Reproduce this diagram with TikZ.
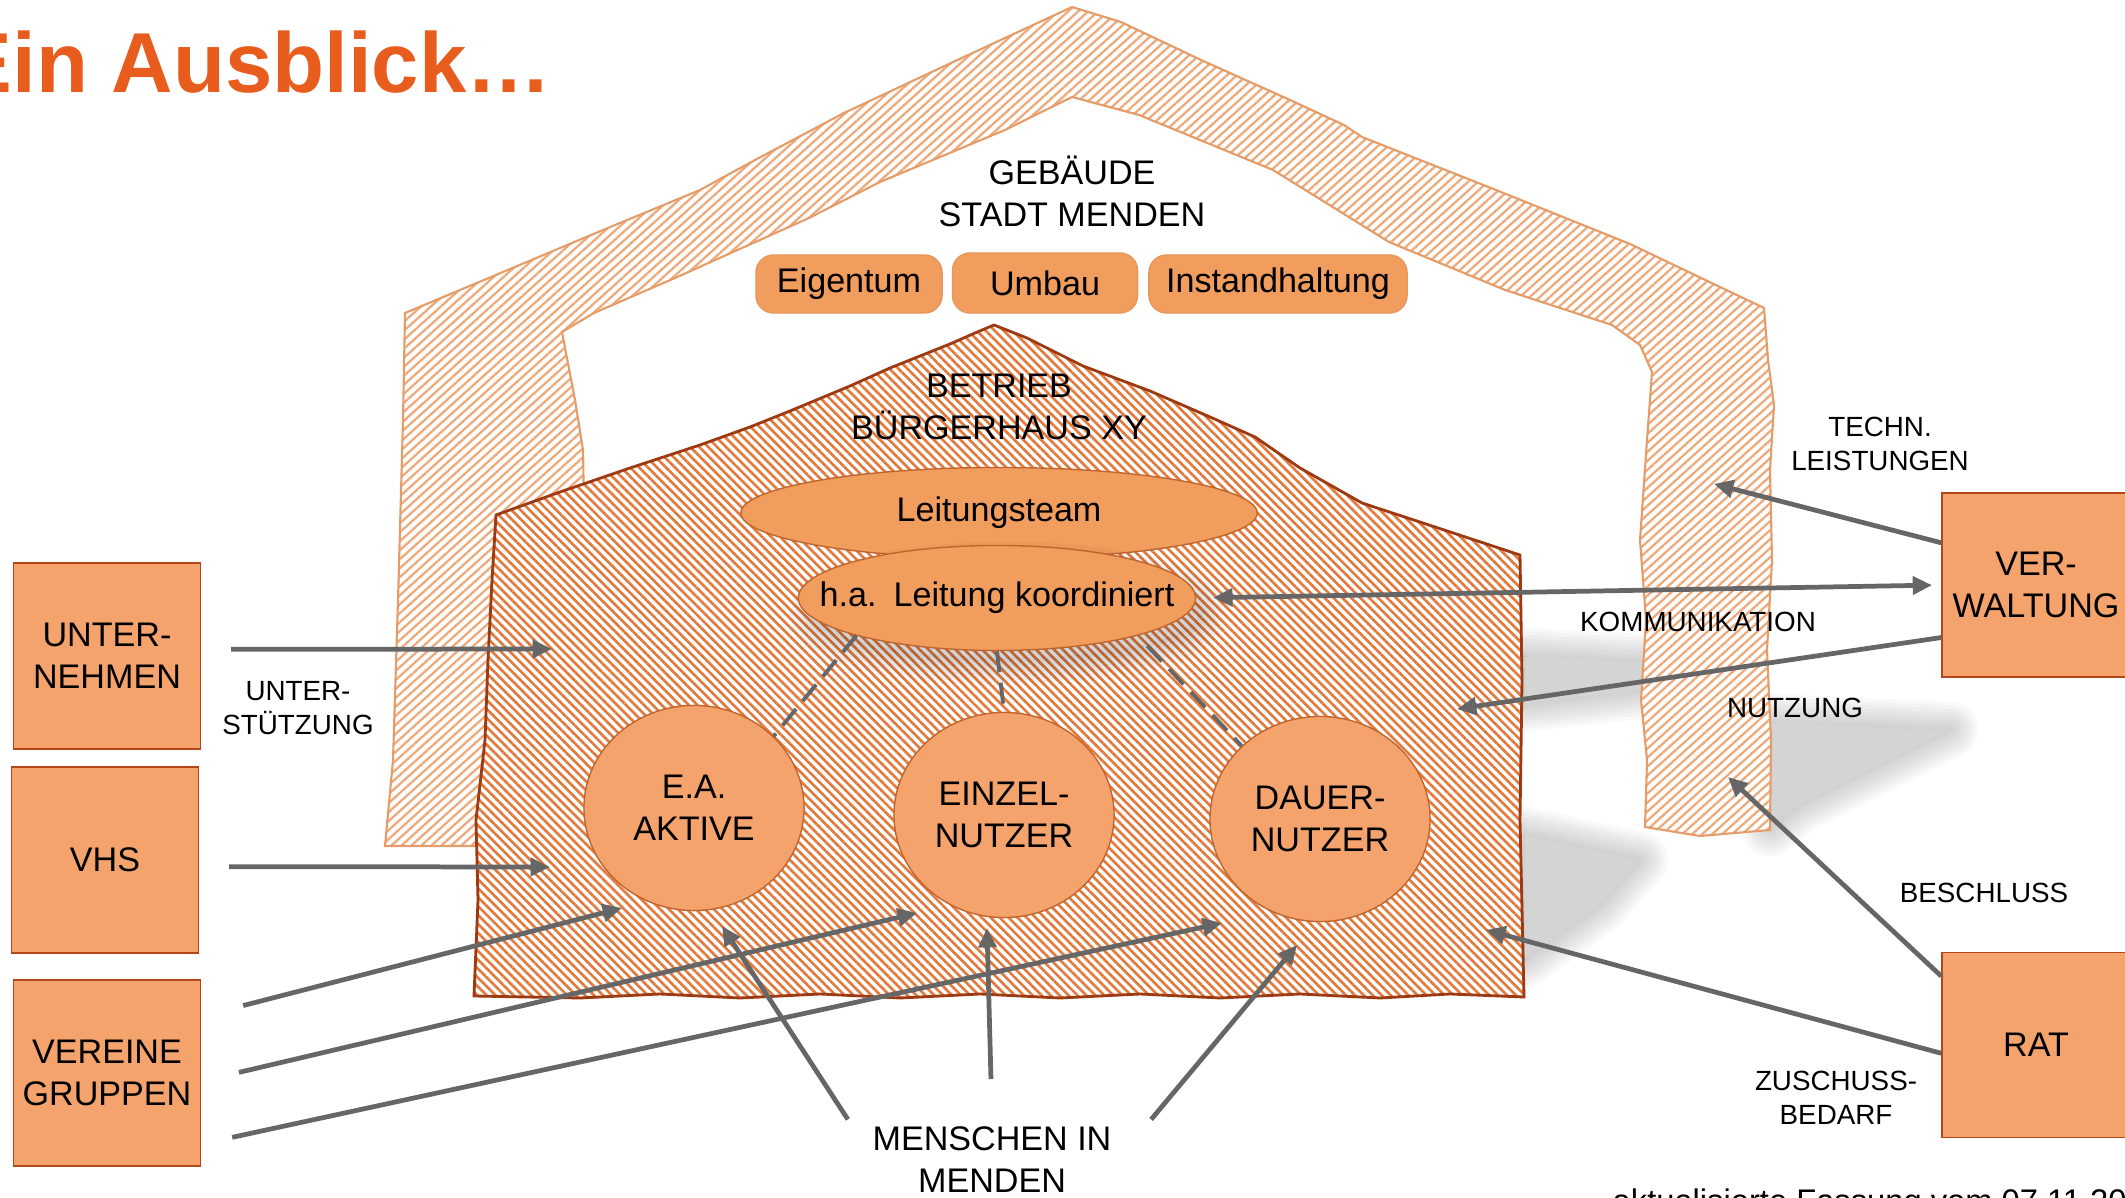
\documentclass[tikz,border=0pt]{standalone}
\usepackage{fontspec}
\setmainfont{Liberation Sans}
\usetikzlibrary{arrows.meta,patterns.meta,shapes.geometric}
\definecolor{titleorange}{HTML}{E85C1E}
\definecolor{boxfill}{HTML}{F4A36C}
\definecolor{boxline}{HTML}{B5461C}
\definecolor{tagfill}{HTML}{F09D5E}
\definecolor{tagline}{HTML}{E8965A}
\definecolor{leadline}{HTML}{C2652C}
\definecolor{hatchdark}{HTML}{E27A3E}
\definecolor{housedark}{HTML}{9E3A12}
\definecolor{walllight}{HTML}{EDAA7C}
\definecolor{walldraw}{HTML}{E59C68}
\definecolor{arrowgray}{HTML}{666666}
\newcommand{\mainsize}{\fontsize{9.7}{11.9}\selectfont}
\newcommand{\notesize}{\fontsize{7.9}{9.7}\selectfont}
\newcommand{\titlesize}{\fontsize{24.2}{29}\selectfont\bfseries}
\newcommand{\softshade}[1]{%
  \begin{scope}[even odd rule]
    \clip (-100,-100) rectangle (2300,1300) #1;
    \foreach \w in {2pt,4pt,6pt,8pt,10pt,12pt,14pt,16pt}{\path[draw=black,line width=\w,line join=round,opacity=0.022] #1;}
  \end{scope}
  \path[fill=black,opacity=0.17] #1;}
\tikzstyle{actor} = [draw=boxline, fill=boxfill, minimum width=1.87cm, minimum height=1.86cm, inner sep=0pt, align=center, font=\mainsize]
\tikzstyle{tag} = [draw=tagline, fill=tagfill, rounded corners=5pt, minimum height=0.58cm, inner sep=0pt, font=\mainsize]
\tikzstyle{lead} = [ellipse, draw=leadline, fill=tagfill, inner sep=0pt, font=\mainsize]
\tikzstyle{group} = [ellipse, draw=leadline, fill=boxfill, inner sep=0pt, align=center, font=\mainsize, minimum width=2.2cm, minimum height=2.05cm]
\tikzstyle{head} = [align=center, inner sep=2pt, font=\mainsize]
\tikzstyle{note} = [align=center, inner sep=2pt, font=\notesize]
\tikzstyle{flow} = [draw=arrowgray, line width=1.35pt, ->]
\tikzstyle{link} = [draw=arrowgray, line width=1.1pt, dash pattern=on 6pt off 3pt]
\tikzstyle{wall} = [draw=walldraw, line width=0.6pt, preaction={fill=white}, pattern={Lines[angle=42,distance=1.9pt,line width=0.65pt]}, pattern color=walllight]
\tikzstyle{betrieb} = [draw=housedark, line width=0.8pt, preaction={fill=white}, pattern={Lines[angle=-45,distance=1.8pt,line width=0.75pt]}, pattern color=hatchdark]

\begin{document}
\begin{tikzpicture}[x=0.01cm, y=-0.01cm, >={Triangle[length=5.5pt,width=5pt]}]
        \useasboundingbox (0,0) rectangle (2125,1198);
        \node[anchor=base west, font=\titlesize, text=titleorange, inner sep=0pt] (title) at (-45,93) {Ein Ausblick…};
        \softshade{(1524,656) -- (1640,662) -- (1662,688) -- (1524,704) -- cycle}
        \softshade{(1770,722) -- (1950,730) -- (1870,770) -- (1800,805) -- (1770,828) -- cycle}
        \softshade{(1524,835) -- (1640,860) -- (1600,905) -- (1524,960) -- cycle}
        \path[wall] (385,846) -- (393,760) -- (398,600) -- (403,420) -- (405,313)
          -- (460,290) -- (603,230) -- (700,190) -- (755,160) -- (844,113) -- (951,63) -- (1072,7)
          -- (1121,22) -- (1201,60) -- (1290,100) -- (1344,125) -- (1362,137) -- (1496,190) -- (1630,244) -- (1764,308)
          -- (1768,360) -- (1774,405) -- (1770,470) -- (1772,560) -- (1767,650) -- (1771,740) -- (1770,830)
          -- (1700,836) -- (1645,827)
          -- (1647,760) -- (1641,700) -- (1646,620) -- (1640,540) -- (1647,440) -- (1652,372) -- (1640,345)
          -- (1612,325) -- (1505,290) -- (1389,242) -- (1273,170) -- (1139,115) -- (1072,97)
          -- (1005,130) -- (880,182) -- (809,218) -- (675,278) -- (594,313) -- (562,332)
          -- (575,400) -- (583,450) -- (590,846) -- cycle;
        \path[betrieb] (474,996) -- (478,900) -- (476,820) -- (485,740) -- (488,660) -- (492,580) -- (496,515)
          -- (560,492) -- (630,468) -- (700,445) -- (750,427) -- (790,411) -- (850,386) -- (890,368) -- (950,344) -- (975,333) -- (994,325)
          -- (1027,338) -- (1083,366) -- (1150,391) -- (1210,417) -- (1255,437) -- (1300,468) -- (1362,503) -- (1432,526) -- (1520,555)
          -- (1522,680) -- (1520,820) -- (1524,997)
          -- (1450,994) -- (1380,998) -- (1300,994) -- (1220,998) -- (1140,994) -- (1060,998) -- (980,994) -- (900,998)
          -- (820,994) -- (740,998) -- (660,994) -- (580,998) -- cycle;
        \node[head] (gebaeude) at (1072,191) {GEBÄUDE\\STADT MENDEN};
        \node[tag, minimum width=1.86cm] (eigentum) at (849,284) {Eigentum};
        \node[tag, minimum width=1.85cm, minimum height=0.6cm] (umbau) at (1045,283) {Umbau};
        \node[tag, minimum width=2.58cm] (instand) at (1278,284) {Instandhaltung};
        \node[head] (betriebtext) at (999,407) {BETRIEB\\BÜRGERHAUS XY};
        \node[lead, minimum width=5.16cm, minimum height=0.91cm] (team) at (999,513) {Leitungsteam};
        \softshade{(1008,614) ellipse [x radius=1.9cm, y radius=0.44cm]}
        \node[lead, minimum width=3.97cm, minimum height=1.05cm, inner xsep=-0.45cm] (ha) at (997,598) {h.a.\enspace Leitung koordiniert};
        \node[group] (aktive) at (694,808) {E.A.\\AKTIVE};
        \node[group] (einzel) at (1004,815) {EINZEL-\\NUTZER};
        \node[group] (dauer) at (1320,819) {DAUER-\\NUTZER};
        \draw[link] (ha.195) -- (aktive.42);
        \draw[link] (ha.270) -- (einzel.north);
        \draw[link, shorten <=4pt] (ha.345) -- (dauer.137);
        \node[actor] (unternehmen) at (107,656) {UNTER-\\NEHMEN};
        \node[actor] (vhs) at (105,860) {VHS};
        \node[actor] (vereine) at (107,1073) {VEREINE\\GRUPPEN};
        \node[actor, minimum width=1.88cm, minimum height=1.84cm] (verwaltung) at (2036,585) {VER-\\WALTUNG};
        \node[actor, minimum width=1.88cm, minimum height=1.85cm] (rat) at (2036,1045) {RAT};
        \node[note] (stuetzung) at (298,708) {UNTER-\\STÜTZUNG};
        \node[note] (techn) at (1880,444) {TECHN.\\LEISTUNGEN};
        \node[note] (kommunikation) at (1698,622) {KOMMUNIKATION};
        \node[note] (nutzung) at (1795,708) {NUTZUNG};
        \node[note] (beschluss) at (1984,893) {BESCHLUSS};
        \node[note] (zuschuss) at (1836,1098) {ZUSCHUSS-\\BEDARF};
        \node[head] (menschen) at (992,1160) {MENSCHEN IN\\MENDEN};
        \node[anchor=base west, font=\fontsize{9.3}{11}\selectfont, inner sep=0pt] (stand) at (1612,1212) {aktualisierte Fassung vom 07.11.20};
        \coordinate (a1) at (552,649);
        \coordinate (a2) at (550,867);
        \coordinate (a3) at (622,908);
        \coordinate (a4) at (917,913);
        \coordinate (a5) at (1222,923);
        \coordinate (a6) at (722,926);
        \coordinate (a7) at (987,928);
        \coordinate (a8) at (1297,945);
        \coordinate (a9) at (1714,484);
        \coordinate (a10) at (1457,709);
        \coordinate (a11) at (1728,777);
        \coordinate (a12) at (1486,930);
        \draw[flow, shorten <=8.5pt] (unternehmen.4) -- (a1);
        \draw[flow, shorten <=8.5pt] (vhs.-4) -- (a2);
        \draw[flow, shorten <=12.3pt] (vereine.31) -- (a3);
        \draw[flow, shorten <=11pt] (vereine.-5) -- (a4);
        \draw[flow, shorten <=9pt] (vereine.-37) -- (a5);
        \draw[flow] ([xshift=-0.17cm]menschen.north west) -- (a6);
        \draw[flow, shorten <=11.5pt] (menschen.north) -- (a7);
        \draw[flow] ([xshift=0.32cm]menschen.north east) -- (a8);
        \draw[flow] (verwaltung.156) -- (a9);
        \draw[flow, <->, shorten <=4.8pt, shorten >=2.6pt] (ha.east) -- (verwaltung.west);
        \draw[flow] (verwaltung.209) -- (a10);
        \draw[flow] (rat.144) -- (a11);
        \draw[flow] (rat.185) -- (a12);
      \end{tikzpicture}
\end{document}
